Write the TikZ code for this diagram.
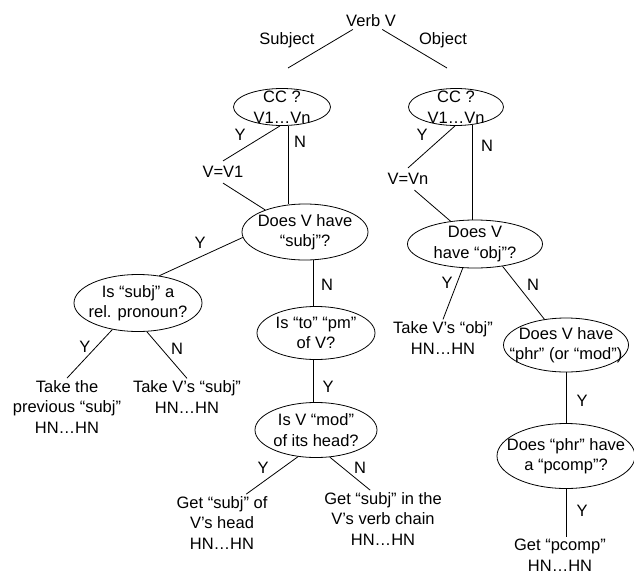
\documentclass[tikz,border=0pt]{standalone}
\usepackage{fontspec}
\setmainfont{Liberation Sans}
\usetikzlibrary{shapes.geometric}
\tikzset{
	test/.style={ellipse, draw, line width=0.8pt, inner sep=-40pt, align=center},
	txt/.style={align=center, inner sep=2pt},
	assign/.style={inner sep=5pt},
	yn/.style={inner sep=0pt}
}

\begin{document}
\begin{tikzpicture}[x=1pt, y=-1pt, line width=0.8pt, font={\fontsize{16.5}{20.5}\selectfont}]
			\useasboundingbox (0,0) rectangle (634,573);
			\node[txt] (verb) at (371,21) {Verb V};
			\node[txt] (subjlbl) at (287,40) {Subject};
			\node[txt] (objlbl) at (443,40) {Object};
			\coordinate (subjend) at (288,68);
			\coordinate (objend) at (447,68);
			\draw (verb.-155) -- (subjend);
			\draw (verb.-37) -- (objend);
			\node[test, minimum width=97pt, minimum height=37pt] (cc1) at (282,107) {CC ?\\V1…Vn};
			\node[test, minimum width=95pt, minimum height=37pt] (cc2) at (456,107) {CC ?\\V1…Vn};
			\node[test, minimum width=126pt, minimum height=56pt] (doesS) at (305,232) {Does V have\\“subj”?};
			\node[test, minimum width=128pt, minimum height=57pt] (relpro) at (138,303) {Is “subj” a\\rel. pronoun?};
			\node[test, minimum width=118pt, minimum height=53pt] (topm) at (316,333) {Is “to” “pm”\\of V?};
			\node[test, minimum width=122pt, minimum height=55pt] (modhd) at (316,430) {Is V “mod”\\of its head?};
			\node[test, minimum width=135pt, minimum height=48pt] (doesO) at (475,244) {Does V\\have “obj”?};
			\node[test, minimum width=125pt, minimum height=54pt] (phrmod) at (566,345) {Does V have\\“phr” (or “mod”)};
			\node[test, minimum width=138pt, minimum height=65pt] (pcomp) at (566,456) {Does “phr” have\\a “pcomp”?};
			\node[txt, assign] (v1) at (223,172) {V=V1};
			\node[txt, assign] (vn) at (408,179) {V=Vn};
			\node[txt] (prev) at (67,407) {Take the\\previous “subj”\\HN…HN};
			\node[txt] (takesubj) at (187,397) {Take V’s “subj”\\HN…HN};
			\node[txt] (takeobj) at (443,338) {Take V’s “obj”\\HN…HN};
			\node[txt] (headsubj) at (222,523) {Get “subj” of\\V’s head\\HN…HN};
			\node[txt] (chainsubj) at (383,519) {Get “subj” in the\\V’s verb chain\\HN…HN};
			\node[txt] (getpcomp) at (560,555) {Get “pcomp”\\HN…HN};
			\draw (cc1.-96) -- (v1.north);
			\draw (v1.south) -- (doesS.151);
			\draw (cc1.-72) -- (cc1.-72 |- doesS.north);
			\draw (doesS.185) -- (relpro.52);
			\draw (doesS.-74) -- (doesS.-74 |- topm.north);
			\draw (relpro.226) -- (prev.north);
			\draw (relpro.-73) -- (takesubj.north);
			\draw (topm.-96) -- (topm.-96 |- modhd.north);
			\draw (modhd.-124) -- (headsubj.50);
			\draw (modhd.-63) -- (chainsubj.114);
			\draw (cc2.-93) -- (vn.north);
			\draw (vn.-60) -- (doesO.137);
			\draw (cc2.-47) -- (cc2.-47 |- doesO.north);
			\draw (doesO.-117) -- (takeobj.north);
			\draw (doesO.-39) -- (phrmod.130);
			\draw (phrmod.south) -- (pcomp.north);
			\draw (pcomp.south) -- (pcomp.south |- getpcomp.north);
			\node[yn] (ycc1) at (240,135) {Y};
			\node[yn] (ncc1) at (300,142) {N};
			\node[yn] (ycc2) at (422,135) {Y};
			\node[yn] (ncc2) at (487,146) {N};
			\node[yn] (ydoesS) at (200,243) {Y};
			\node[yn] (ndoesS) at (327,285) {N};
			\node[yn] (yrelpro) at (85,347) {Y};
			\node[yn] (nrelpro) at (177,349) {N};
			\node[yn] (ytopm) at (328,387) {Y};
			\node[yn] (ymodhd) at (263,468) {Y};
			\node[yn] (nmodhd) at (360,468) {N};
			\node[yn] (ydoesO) at (447,283) {Y};
			\node[yn] (ndoesO) at (533,285) {N};
			\node[yn] (yphrmod) at (582,401) {Y};
			\node[yn] (ypcomp) at (582,511) {Y};
		\end{tikzpicture}
\end{document}
